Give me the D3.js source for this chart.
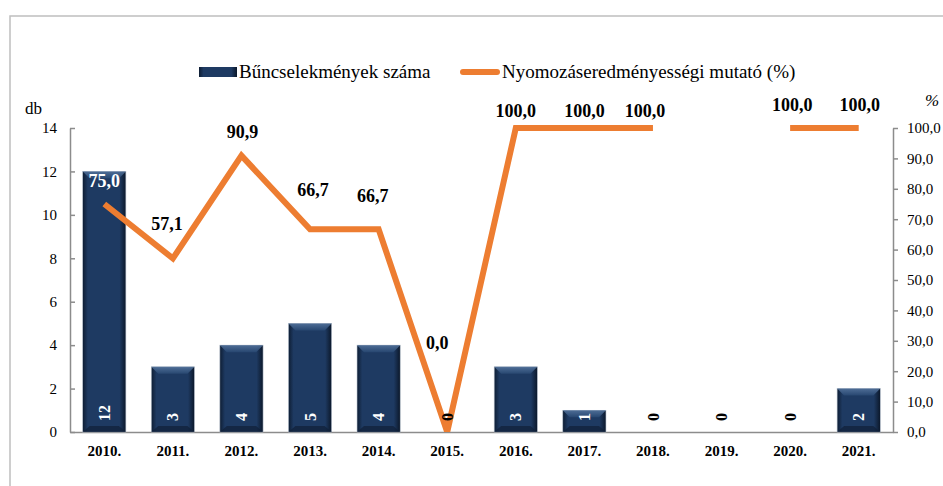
<!DOCTYPE html>
<html lang="hu">
<head>
<meta charset="utf-8">
<script src="https://d3js.org/d3.v7.min.js"></script>
<style>
  body { margin: 0; background: #fff; }
  text { font-family: "Liberation Serif", "Times New Roman", serif; }
</style>
</head>
<body>
<script>
// data
var years = ["2010.", "2011.", "2012.", "2013.", "2014.", "2015.", "2016.", "2017.", "2018.", "2019.", "2020.", "2021."];
var crimes = [12, 3, 4, 5, 4, 0, 3, 1, 0, 0, 0, 2];
var rates = [75.0, 57.1, 90.9, 66.7, 66.7, 0.0, 100.0, 100.0, 100.0, null, 100.0, 100.0];
var leftTicks = [0, 2, 4, 6, 8, 10, 12, 14];
var rightTicks = [0, 10, 20, 30, 40, 50, 60, 70, 80, 90, 100];

// hand placed label nudges (like in the original Excel chart)
var labelNudge = [[0, -23], [-6, -35], [1, -24], [3, -40], [-6, -34], [-10, -89],
                  [0, -17], [0, -17], [-8, -17], [0, 0], [2, -23], [1, -23]];

var W = 943, H = 486;
var plotL = 70, plotR = 893, plotT = 128, plotB = 432;
var fmt = function(v) { return v.toFixed(1).replace(".", ","); };

var svg = d3.select("body").append("svg")
    .attr("width", W)
    .attr("height", H);

var defs = svg.append("defs");
var g1 = defs.append("linearGradient").attr("id", "barH");
g1.append("stop").attr("offset", "0%").attr("stop-color", "#0e1d33");
g1.append("stop").attr("offset", "12%").attr("stop-color", "#1e3a62");
g1.append("stop").attr("offset", "85%").attr("stop-color", "#1e3a62");
g1.append("stop").attr("offset", "100%").attr("stop-color", "#0b1729");
var g2 = defs.append("linearGradient").attr("id", "barTop")
    .attr("x1", 0).attr("y1", 0).attr("x2", 0).attr("y2", 1);
g2.append("stop").attr("offset", "0%").attr("stop-color", "#5a7aa3");
g2.append("stop").attr("offset", "100%").attr("stop-color", "#2a4a74");

defs.append("clipPath").attr("id", "plot")
  .append("rect").attr("x", plotL).attr("y", plotT - 20)
  .attr("width", plotR - plotL).attr("height", plotB - plotT + 20);

// outer frame
svg.append("rect")
    .attr("x", 10).attr("y", 16)
    .attr("width", W + 20).attr("height", H + 20)
    .attr("fill", "none")
    .attr("stroke", "#bfbfbf")
    .attr("stroke-width", 1.5);

var x = d3.scaleBand()
    .domain(years)
    .range([plotL, plotR])
    .paddingInner(0.37)
    .paddingOuter(0.185);

var y = d3.scaleLinear().domain([0, 14]).range([plotB, plotT]);
var y2 = d3.scaleLinear().domain([0, 100]).range([plotB, plotT]);

// axes
var yAxis = svg.append("g")
    .attr("transform", "translate(" + plotL + ",0)")
    .call(d3.axisLeft(y).tickValues(leftTicks).tickSizeInner(-5).tickSizeOuter(0).tickPadding(13));
yAxis.select(".domain").attr("stroke", "#8c8c8c").attr("stroke-width", 1.5);
yAxis.selectAll(".tick line").attr("stroke", "#8c8c8c").attr("stroke-width", 1.5);
yAxis.selectAll(".tick text").attr("font-size", 15).attr("fill", "#000");

var y2Axis = svg.append("g")
    .attr("transform", "translate(" + plotR + ",0)")
    .call(d3.axisRight(y2).tickValues(rightTicks).tickFormat(fmt).tickSizeInner(5).tickSizeOuter(0).tickPadding(9));
y2Axis.select(".domain").attr("stroke", "#8c8c8c").attr("stroke-width", 1.5);
y2Axis.selectAll(".tick line").attr("stroke", "#8c8c8c").attr("stroke-width", 1.5);
y2Axis.selectAll(".tick text").attr("font-size", 15).attr("fill", "#000");

var xAxis = svg.append("g")
    .attr("transform", "translate(0," + plotB + ")")
    .call(d3.axisBottom(x).tickSize(0).tickPadding(13));
xAxis.select(".domain").attr("stroke", "#8c8c8c").attr("stroke-width", 1.5);
xAxis.selectAll(".tick text").attr("font-size", 15).attr("font-weight", "bold").attr("fill", "#000");

// bars
var bars = svg.append("g").selectAll("g")
    .data(years.map(function(d, i) { return {year: d, v: crimes[i]}; }))
    .enter().append("g")
    .filter(function(d) { return d.v > 0; });

bars.append("rect")
    .attr("x", function(d) { return x(d.year); })
    .attr("y", function(d) { return y(d.v); })
    .attr("width", x.bandwidth())
    .attr("height", function(d) { return plotB - y(d.v); })
    .attr("fill", "url(#barH)")
    .attr("stroke", "#b8c2cf")
    .attr("stroke-width", 0.6);

bars.append("path")
    .attr("d", function(d) {
        var x0 = x(d.year), x1 = x0 + x.bandwidth(), t = y(d.v);
        return "M" + x0 + "," + t + "L" + x1 + "," + t + "L" + (x1 - 7) + "," + (t + 7) +
               "L" + (x0 + 7) + "," + (t + 7) + "Z";
    })
    .attr("fill", "url(#barTop)")
    .attr("opacity", 0.8);

bars.append("path")
    .attr("d", function(d) {
        var x0 = x(d.year), x1 = x0 + x.bandwidth();
        return "M" + x0 + "," + plotB + "L" + x1 + "," + plotB + "L" + (x1 - 7) + "," + (plotB - 6) +
               "L" + (x0 + 7) + "," + (plotB - 6) + "Z";
    })
    .attr("fill", "#0f2038")
    .attr("opacity", 0.7);

// line
var pts = years.map(function(d, i) { return {year: d, v: rates[i], i: i}; });
var line = d3.line()
    .defined(function(d) { return d.v !== null; })
    .x(function(d) { return x(d.year) + x.bandwidth() / 2; })
    .y(function(d) { return y2(d.v); });

svg.append("path")
    .datum(pts)
    .attr("clip-path", "url(#plot)")
    .attr("d", line)
    .attr("fill", "none")
    .attr("stroke", "#ed7d31")
    .attr("stroke-width", 6)
    .attr("stroke-linejoin", "miter")
    .attr("stroke-miterlimit", 10);

// bar value labels, rotated (on top of the line)
svg.append("g").selectAll("text")
    .data(years.map(function(d, i) { return {year: d, v: crimes[i]}; }))
    .enter().append("text")
    .attr("transform", function(d) {
        return "translate(" + (x(d.year) + x.bandwidth() / 2) + "," + (plotB - 11) + ") rotate(-90)";
    })
    .attr("dy", "0.35em")
    .attr("font-size", 16)
    .attr("font-weight", "bold")
    .attr("fill", function(d) { return d.v > 0 ? "#fff" : "#000"; })
    .text(function(d) { return d.v; });

// line value labels
svg.append("g").selectAll("text")
    .data(pts.filter(function(d) { return d.v !== null; }))
    .enter().append("text")
    .attr("x", function(d) { return x(d.year) + x.bandwidth() / 2 + labelNudge[d.i][0]; })
    .attr("y", function(d) { return y2(d.v) + labelNudge[d.i][1]; })
    .attr("dy", "0.35em")
    .attr("text-anchor", "middle")
    .attr("font-size", 18)
    .attr("font-weight", "bold")
    .attr("fill", function(d) { return d.i === 0 ? "#fff" : "#000"; })
    .text(function(d) { return fmt(d.v); });

// axis titles
svg.append("text").attr("x", 25).attr("y", 114).attr("font-size", 17).text("db");
svg.append("text").attr("x", 925).attr("y", 106).attr("font-size", 17).attr("font-style", "italic").text("%");

// legend
var legend = svg.append("g");
legend.append("rect")
    .attr("x", 199).attr("y", 67).attr("width", 38).attr("height", 10)
    .attr("fill", "url(#barH)");
legend.append("text").attr("x", 239).attr("y", 78).attr("font-size", 19).text("Bűncselekmények száma");
legend.append("line")
    .attr("x1", 463).attr("x2", 497).attr("y1", 72).attr("y2", 72)
    .attr("stroke", "#ed7d31").attr("stroke-width", 6).attr("stroke-linecap", "round");
legend.append("text").attr("x", 502).attr("y", 78).attr("font-size", 19).text("Nyomozáseredményességi mutató (%)");
</script>
</body>
</html>
